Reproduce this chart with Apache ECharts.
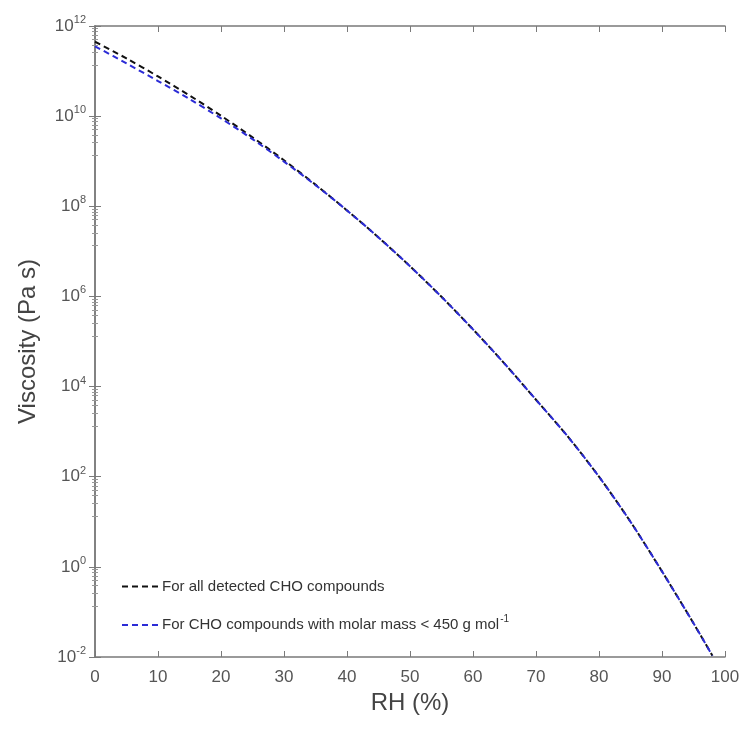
<!DOCTYPE html>
<html>
<head>
<meta charset="utf-8">
<script src="https://cdn.jsdelivr.net/npm/echarts@6/dist/echarts.min.js"></script>
<style>html,body{margin:0;padding:0;background:#fff;}#c{width:744px;height:729px;}</style>
</head>
<body>
<div id="c"></div>
<script>
// RH (%) sample points
var rh = [0, 5, 10, 15, 20, 25, 30, 35, 40, 45, 50, 55, 60, 65, 70, 75, 80, 85, 90, 95, 98];
// Viscosity (Pa s) – all detected CHO compounds
var viscAll = [4.47e11, 1.91e11, 7.6e10, 2.88e10, 1.02e10, 3.39e9, 1.05e9, 3.02e8, 8.1e7, 2.04e7, 4.68e6, 9.8e5, 1.86e5, 3.24e4, 5.1e3, 794, 100, 10, 0.794, 0.056, 0.0107];
// Viscosity (Pa s) – CHO compounds with molar mass < 450 g/mol
var viscLow = [3.55e11, 1.48e11, 6.0e10, 2.4e10, 8.9e9, 3.09e9, 9.8e8, 2.95e8, 8.1e7, 2.04e7, 4.68e6, 9.8e5, 1.86e5, 3.24e4, 5.1e3, 794, 100, 10, 0.794, 0.056, 0.0107];
var xTicks = [0, 10, 20, 30, 40, 50, 60, 70, 80, 90, 100];
var seriesNames = ['For all detected CHO compounds', 'For CHO compounds with molar mass < 450 g mol-1'];

function pairs(xs, ys) { return xs.map(function (x, i) { return [x, ys[i]]; }); }

var axisColor = '#7a7a7a';
var labelColor = '#555';
var font = 'Liberation Sans, Arial, sans-serif';

function logLabel(v) {
  var e = Math.round(Math.log10(v));
  return '{b|10}{s|' + e + '}';
}

var chart = echarts.init(document.getElementById('c'));
chart.setOption({
  animation: false,
  backgroundColor: '#fff',
  grid: { left: 95, right: 19, top: 26, bottom: 72, containLabel: false },
  legend: {
    orient: 'vertical',
    left: 116,
    top: 574,
    itemWidth: 38,
    itemHeight: 14,
    itemGap: 20,
    itemStyle: { opacity: 0 },
    data: [seriesNames[0], seriesNames[1]],
    formatter: function (n) {
      if (n === seriesNames[1]) return '{t|For CHO compounds with molar mass < 450 g mol}{sp|-1}';
      return '{t|' + n + '}';
    },
    textStyle: {
      fontFamily: font,
      color: '#333',
      padding: [0, 0, 0, -3],
      rich: {
        t: { fontSize: 15, fontFamily: font, color: '#333' },
        sp: { fontSize: 10, fontFamily: font, color: '#333', verticalAlign: 'bottom', padding: [0, 0, 12, 1] }
      }
    }
  },
  xAxis: [{
    type: 'value', min: 0, max: 100, interval: 10,
    name: 'RH (%)', nameLocation: 'middle', nameGap: 32,
    nameTextStyle: { fontSize: 24, color: '#444', fontFamily: font },
    axisLine: { show: true, lineStyle: { color: axisColor, width: 1.5 } },
    axisTick: { show: true, inside: true, length: 6, lineStyle: { color: axisColor } },
    axisLabel: { fontSize: 17, color: labelColor, fontFamily: font, margin: 12,
      formatter: function (v) { return xTicks.indexOf(v) >= 0 ? String(v) : ''; } },
    splitLine: { show: false }
  }, {
    type: 'value', min: 0, max: 100, interval: 10, position: 'top',
    axisLine: { show: true, lineStyle: { color: axisColor, width: 1.5 } },
    axisTick: { show: true, inside: true, length: 6, lineStyle: { color: axisColor } },
    axisLabel: { show: false }, splitLine: { show: false }
  }],
  yAxis: [{
    type: 'log', logBase: 10, min: 1e-2, max: 1e12, interval: 2,
    name: 'Viscosity (Pa s)', nameLocation: 'middle', nameGap: 55, nameRotate: 90,
    nameTextStyle: { fontSize: 24, color: '#444', fontFamily: font },
    axisLine: { show: true, lineStyle: { color: axisColor, width: 1.5 } },
    axisTick: { show: true, inside: true, length: 6, lineStyle: { color: axisColor } },
    minorTick: { show: true, splitNumber: 8, length: 3, lineStyle: { color: '#999' } },
    axisLabel: { color: labelColor, fontFamily: font, margin: 9, formatter: logLabel,
      rich: {
        b: { fontSize: 17, fontFamily: font, color: labelColor },
        s: { fontSize: 11, fontFamily: font, color: labelColor, verticalAlign: 'bottom', padding: [0, 0, 12, 0] }
      } },
    splitLine: { show: false }
  }, {
    type: 'log', logBase: 10, min: 1e-2, max: 1e12, interval: 2, position: 'right',
    axisLine: { show: true, lineStyle: { color: axisColor, width: 1.5 } },
    axisTick: { show: true, inside: true, length: 6, lineStyle: { color: axisColor } },
    minorTick: { show: true, splitNumber: 8, length: 3, lineStyle: { color: '#999' } },
    axisLabel: { show: false }, splitLine: { show: false }
  }],
  series: [{
    name: seriesNames[0], type: 'line', xAxisIndex: 0, yAxisIndex: 0,
    data: pairs(rh, viscAll), showSymbol: false, symbol: 'none', smooth: 0.3,
    lineStyle: { color: '#111', width: 2, type: [6, 4] }, itemStyle: { color: '#111' }
  }, {
    name: seriesNames[1], type: 'line', xAxisIndex: 0, yAxisIndex: 0,
    data: pairs(rh, viscLow), showSymbol: false, symbol: 'none', smooth: 0.3,
    lineStyle: { color: '#2b2bd6', width: 2, type: [6, 4] }, itemStyle: { color: '#2b2bd6' }
  }]
});
</script>
</body>
</html>
